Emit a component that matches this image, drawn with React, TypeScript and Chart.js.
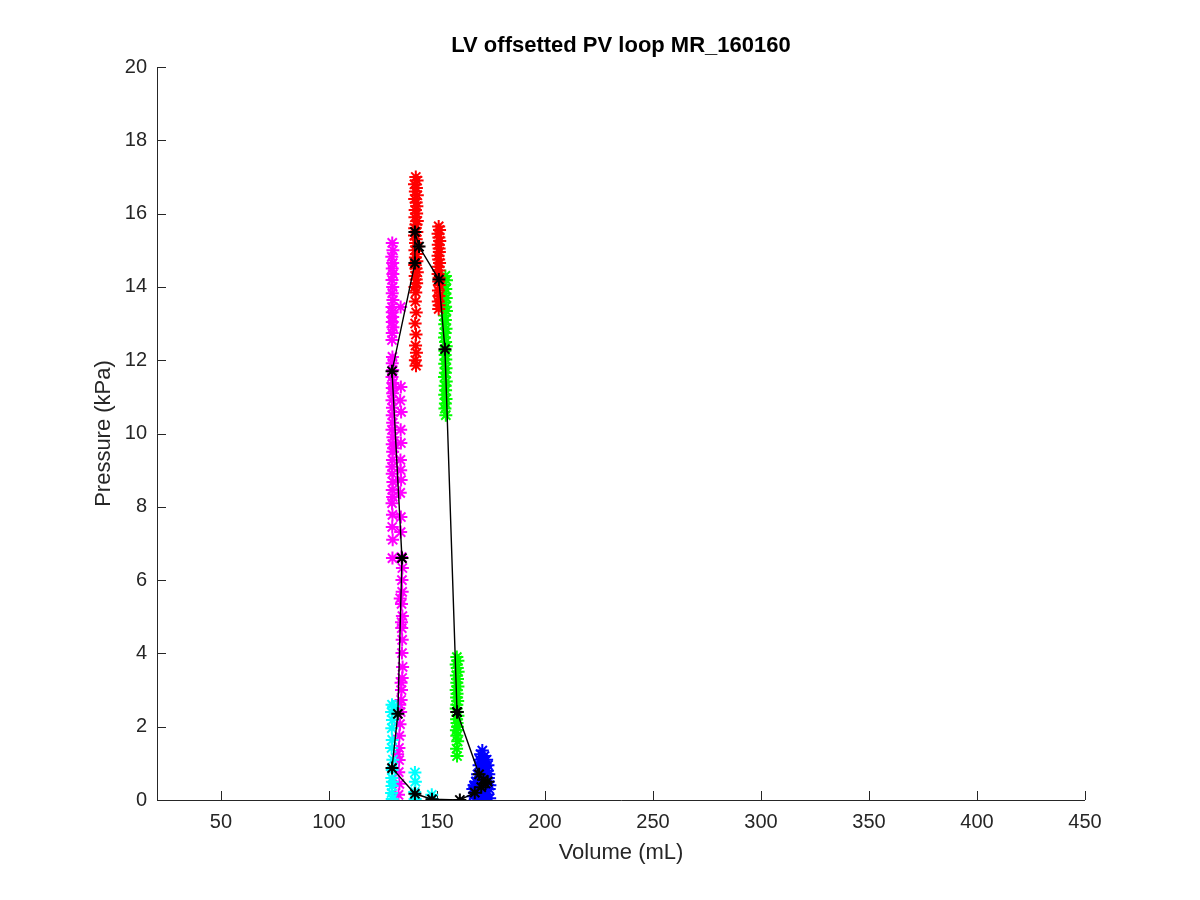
import React, { useEffect, useRef } from "react";
import { Chart, registerables } from "chart.js";

Chart.register(...registerables);

const titleText = "LV offsetted PV loop MR_160160";
const xLabel = "Volume (mL)";
const yLabel = "Pressure (kPa)";
const xTicks = [50, 100, 150, 200, 250, 300, 350, 400, 450];
const yTicks = [0, 2, 4, 6, 8, 10, 12, 14, 16, 18, 20];

const redVol = [
  140.2, 140.8, 139.6, 140.5, 140.0, 140.9, 139.7, 140.4, 140.7, 139.9, 140.6, 139.8, 140.9, 140.3, 139.7, 140.7, 139.6, 140.4, 140.1, 140.8,
  139.8, 140.5, 140.0, 140.7, 139.7, 140.3, 140.9, 139.9, 140.4, 140.6, 139.8, 140.2, 140.0, 140.4, 139.9, 140.3, 140.1, 140.5, 140.0, 140.3,
  150.8, 151.2, 150.5, 150.9, 151.3, 150.6, 151.0, 151.1, 150.5, 150.8, 151.2, 150.6, 150.9, 150.5, 151.0, 150.8, 151.1, 150.7, 150.9, 150.6, 151.0, 150.8];
const redPres = [
  17.0, 16.9, 16.8, 16.7, 16.6, 16.5, 16.4, 16.3, 16.2, 16.1, 16.0, 15.9, 15.8, 15.7, 15.6, 15.5, 15.4, 15.3, 15.2, 15.1,
  15.0, 14.9, 14.8, 14.7, 14.6, 14.5, 14.4, 14.3, 14.2, 14.1, 14.0, 13.85, 13.6, 13.3, 13.0, 12.7, 12.4, 12.2, 12.0, 11.85,
  15.65, 15.55, 15.45, 15.35, 15.25, 15.15, 15.05, 14.95, 14.85, 14.75, 14.65, 14.55, 14.45, 14.35, 14.25, 14.15, 14.05, 13.9, 13.75, 13.6, 13.5, 13.4];

const greenVol = [
  153.9, 154.4, 153.5, 154.1, 153.7, 154.3, 153.6, 154.0, 154.4, 153.5, 153.9, 153.6, 154.2, 153.8, 153.5, 154.0, 154.3, 153.7, 153.8, 154.1,
  153.6, 154.2, 153.9, 153.5, 154.3, 153.8, 154.0, 153.6, 154.2, 153.9, 153.7, 154.1,
  159.2, 159.7, 158.9, 159.4, 159.8, 159.0, 159.5, 159.2, 159.7, 158.9, 159.3, 159.1, 159.6, 159.2, 158.9, 159.4, 159.7, 159.1, 159.3, 159.5, 159.0, 159.2, 159.6, 159.1, 159.3];
const greenPres = [
  14.3, 14.18, 14.06, 13.94, 13.82, 13.7, 13.58, 13.46, 13.34, 13.22, 13.1, 12.98, 12.86, 12.74, 12.62, 12.5, 12.38, 12.26, 12.14, 12.02,
  11.9, 11.78, 11.66, 11.54, 11.42, 11.3, 11.18, 11.06, 10.94, 10.82, 10.68, 10.5,
  3.9, 3.8, 3.7, 3.6, 3.5, 3.4, 3.3, 3.2, 3.1, 3.0, 2.9, 2.8, 2.7, 2.6, 2.5, 2.4, 2.3, 2.2, 2.1, 2.0, 1.9, 1.75, 1.6, 1.4, 1.2];

const blueVol = [
  171.0, 170.2, 172.0, 173.0, 169.8, 171.5, 173.6, 169.5, 172.2, 173.3, 171.0, 168.8, 174.0, 170.5, 172.5, 168.2, 173.6, 169.5, 171.5, 167.5,
  170.0, 172.0, 174.2, 168.5, 171.0, 173.0, 169.0, 166.8, 172.8, 170.8, 171.8, 170.6, 172.6, 167.8, 174.4, 169.2, 167.2, 173.8, 170.4, 171.2,
  166.6, 168.0, 174.5, 169.8];
const bluePres = [
  1.35, 1.25, 1.2, 1.1, 1.1, 1.0, 0.95, 0.95, 0.9, 0.8, 0.8, 0.7, 0.7, 0.65, 0.6, 0.5, 0.5, 0.45, 0.4, 0.35,
  0.3, 0.3, 0.3, 0.2, 0.2, 0.15, 0.1, 0.1, 0.05, 0.05, 1.05, 0.55, 0.25, 0.05, 0.05, 0.25, 0.4, 0.6, 0.0, 0.0,
  0.3, 0.5, 0.4, 0.15];

const magentaVol = [
  129.3, 129.6, 129.1, 129.5, 129.3, 129.6, 129.2, 129.5, 129.3, 129.6, 129.2, 129.3, 129.5, 129.3, 129.6, 129.3, 129.2, 129.4, 129.3, 129.5,
  129.2, 129.6, 129.3, 129.5, 129.2, 129.4, 129.3, 129.5, 129.2, 129.6, 129.3, 129.5, 129.4, 129.2, 129.3, 129.6, 129.3, 129.5, 129.2, 129.4,
  129.3, 129.5, 129.4, 130.0,
  133.2, 133.3, 133.0, 133.4, 133.2, 133.3, 133.1, 133.2, 133.4, 133.0, 133.3, 133.2, 133.6, 134.0, 133.8, 133.9, 133.6, 134.0, 133.7, 133.9,
  133.8, 134.1, 133.9, 133.6, 133.4, 133.2, 132.9, 132.6, 132.4, 132.5, 132.3, 132.6, 132.2, 133.0, 133.6, 133.4, 132.8, 131.8];
const magentaPres = [
  15.2, 15.0, 14.82, 14.65, 14.5, 14.35, 14.19, 14.0, 13.83, 13.64, 13.45, 13.31, 13.18, 13.04, 12.9, 12.74, 12.55, 12.09, 11.92, 11.73,
  11.54, 11.38, 11.24, 11.1, 10.91, 10.7, 10.5, 10.29, 10.1, 9.9, 9.71, 9.5, 9.28, 9.09, 8.9, 8.68, 8.46, 8.27, 8.1, 7.78,
  7.45, 7.1, 6.6, 9.6,
  13.45, 11.27, 10.9, 10.59, 10.1, 9.74, 9.28, 9.0, 8.73, 8.38, 7.72, 7.31, 6.63, 6.33, 6.0, 5.68, 5.35, 5.02, 4.69, 4.37,
  4.01, 3.63, 3.33, 3.0, 2.73, 2.4, 2.07, 1.75, 1.42, 1.09, 0.76, 0.44, 0.14, 5.5, 4.85, 3.2, 2.6, 1.25];

const cyanVol = [129.2, 129.0, 129.4, 129.1, 129.3, 129.0, 129.3, 129.1, 129.2, 129.0, 129.3, 130.0, 129.6, 129.4,
  139.8, 140.0, 139.7, 139.9, 147.6, 147.9];
const cyanPres = [2.6, 2.4, 2.18, 1.96, 1.64, 1.42, 0.82, 0.6, 0.38, 0.19, 0.03, 2.55, 1.1, 0.5,
  0.75, 0.5, 0.22, 0.03, 0.14, 0.02];

const loopVol = [159.3, 153.7, 150.9, 141.7, 139.8, 139.8, 129.2, 133.8, 131.9, 129.2, 139.8, 147.7, 160.6, 167.5, 170.5, 172.5, 173.5, 171.5, 169.5, 159.3];
const loopPres = [2.4, 12.3, 14.2, 15.1, 15.5, 14.65, 11.7, 6.6, 2.35, 0.87, 0.17, 0.02, 0.0, 0.2, 0.35, 0.45, 0.5, 0.55, 0.7, 2.4];

const toPts = (xs: number[], ys: number[]) => xs.map((x, i) => ({ x, y: ys[i] }));

const axisColor = "#262626";
const fontFamily = "'Liberation Sans', Arial, sans-serif";

const decor = {
  id: "decor",
  beforeDatasetsDraw(chart: any) {
    const { ctx, chartArea, scales } = chart;
    const xs = scales.x;
    const ys = scales.y;
    ctx.save();
    ctx.strokeStyle = axisColor;
    ctx.lineWidth = 1;
    ctx.beginPath();
    xs.ticks.forEach((t: any) => {
      const px = Math.round(xs.getPixelForValue(t.value)) + 0.5;
      ctx.moveTo(px, chartArea.bottom);
      ctx.lineTo(px, chartArea.bottom - 9);
    });
    ys.ticks.forEach((t: any) => {
      const py = Math.round(ys.getPixelForValue(t.value)) + 0.5;
      ctx.moveTo(chartArea.left, py);
      ctx.lineTo(chartArea.left + 9, py);
    });
    ctx.moveTo(chartArea.left + 0.5, chartArea.top);
    ctx.lineTo(chartArea.left + 0.5, chartArea.bottom + 0.5);
    ctx.lineTo(chartArea.right, chartArea.bottom + 0.5);
    ctx.stroke();
    ctx.restore();
  },
  afterDraw(chart: any) {
    const { ctx, chartArea } = chart;
    const cx = (chartArea.left + chartArea.right) / 2;
    const cy = (chartArea.top + chartArea.bottom) / 2;
    ctx.save();
    ctx.fillStyle = "#000000";
    ctx.textAlign = "center";
    ctx.textBaseline = "middle";
    ctx.font = `bold 22px ${fontFamily}`;
    ctx.fillText(titleText, cx, chartArea.top - 21);
    ctx.fillStyle = axisColor;
    ctx.font = `22px ${fontFamily}`;
    ctx.fillText(xLabel, cx, chartArea.bottom + 53);
    ctx.translate(chartArea.left - 53, cy);
    ctx.rotate(-Math.PI / 2);
    ctx.fillText(yLabel, 0, 0);
    ctx.restore();
  },
};

export default function App() {
  const ref = useRef<HTMLCanvasElement | null>(null);
  useEffect(() => {
    if (!ref.current) return;
    const star = (color: string) => ({
      showLine: false,
      pointStyle: "star",
      pointRadius: 6.5,
      pointBorderWidth: 2,
      pointBorderColor: color,
      pointBackgroundColor: color,
      borderColor: color,
      backgroundColor: color,
    });
    const chart = new Chart(ref.current, {
      type: "scatter",
      data: {
        datasets: [
          {
            data: toPts(loopVol, loopPres),
            ...star("#000000"),
            pointRadius: 6.5,
            pointBorderWidth: 2,
            showLine: true,
            borderWidth: 1.4,
            tension: 0,
          },
          { data: toPts(redVol, redPres), ...star("#FF0000") },
          { data: toPts(greenVol, greenPres), ...star("#00FF00") },
          { data: toPts(blueVol, bluePres), ...star("#0000FF") },
          { data: toPts(cyanVol, cyanPres), ...star("#00FFFF") },
          { data: toPts(magentaVol, magentaPres), ...star("#FF00FF") },
        ] as any,
      },
      options: {
        animation: false,
        responsive: false,
        devicePixelRatio: 1,
        layout: { padding: { left: 0, right: 115, top: 67, bottom: 0 } },
        plugins: { legend: { display: false }, title: { display: false }, tooltip: { enabled: false } },
        scales: {
          x: {
            type: "linear",
            min: 20.4,
            max: 450,
            grid: { display: false, drawTicks: false },
            border: { display: false },
            ticks: {
              stepSize: 50,
              padding: 10,
              color: axisColor,
              font: { family: fontFamily, size: 20 },
              maxRotation: 0,
              autoSkip: false,
            },
            afterBuildTicks: (s: any) => {
              s.ticks = xTicks.map((v) => ({ value: v }));
            },
            afterFit: (s: any) => {
              s.height = 100;
            },
          },
          y: {
            type: "linear",
            min: 0,
            max: 20,
            grid: { display: false, drawTicks: false },
            border: { display: false },
            ticks: {
              stepSize: 2,
              padding: 10,
              color: axisColor,
              font: { family: fontFamily, size: 20 },
              autoSkip: false,
            },
            afterBuildTicks: (s: any) => {
              s.ticks = yTicks.map((v) => ({ value: v }));
            },
            afterFit: (s: any) => {
              s.width = 157;
            },
          },
        },
      },
      plugins: [decor],
    } as any);
    return () => chart.destroy();
  }, []);
  return (
    <div style={{ position: "fixed", left: 0, top: 0, width: 1200, height: 900, background: "#ffffff" }}>
      <canvas ref={ref} width={1200} height={900} style={{ width: 1200, height: 900 }} />
    </div>
  );
}
